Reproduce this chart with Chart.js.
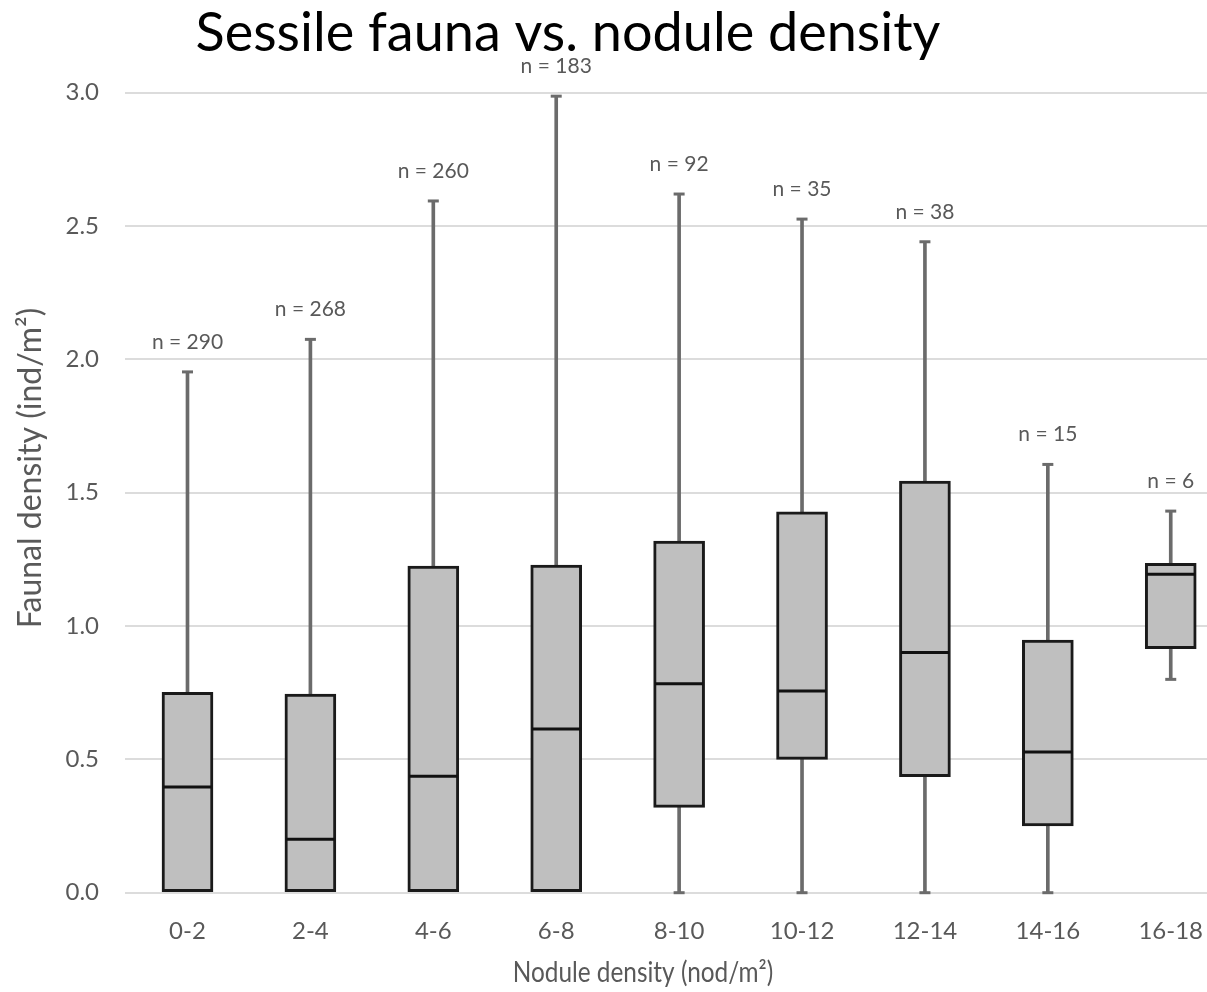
<!DOCTYPE html>
<html><head><meta charset="utf-8">
<script src="https://cdn.jsdelivr.net/npm/chart.js@4.4.0/dist/chart.umd.min.js"></script>
<style>html,body{margin:0;padding:0;background:#fff;overflow:hidden}#wrap{position:relative;width:1207px;height:992px}</style>
</head><body><div id="wrap"><canvas id="c" width="1207" height="992"></canvas></div>
<script>
const chartTitle = 'Sessile fauna vs. nodule density';
const xTitle = 'Nodule density (nod/m\u00B2)';
const yTitle = 'Faunal density (ind/m\u00B2)';
const categories = ['0-2','2-4','4-6','6-8','8-10','10-12','12-14','14-16','16-18'];
const sampleSizes = [290, 268, 260, 183, 92, 35, 38, 15, 6];
const whiskerMin = [0, 0, 0, 0, 0, 0, 0, 0, 0.80];
const quartile1 = [0, 0, 0, 0, 0.32, 0.50, 0.435, 0.25, 0.915];
const medians = [0.396, 0.20, 0.437, 0.614, 0.784, 0.756, 0.901, 0.528, 1.194];
const quartile3 = [0.751, 0.745, 1.225, 1.229, 1.319, 1.428, 1.544, 0.947, 1.235];
const whiskerMax = [1.953, 2.075, 2.594, 2.987, 2.62, 2.526, 2.441, 1.606, 1.431];
const yTicks = [0, 0.5, 1.0, 1.5, 2.0, 2.5, 3.0];

const FONT = 'Lato, "Open Sans", sans-serif';
const GREY_TEXT = '#595959';
const idx = categories.map((_, i) => i);

const boxData = idx.map(i => ({x: i, y: [quartile1[i], quartile3[i]]}));
const upperWhisker = idx.map(i => ({x: i, y: [quartile3[i], whiskerMax[i]]}));
const lowerIdx = idx.filter(i => whiskerMin[i] < quartile1[i]);
const lowerWhisker = lowerIdx.map(i => ({x: i, y: [whiskerMin[i], quartile1[i]]}));
const medianPts = idx.map(i => ({x: i, y: medians[i]}));
const capPts = idx.map(i => ({x: i, y: whiskerMax[i]})).concat(lowerIdx.map(i => ({x: i, y: whiskerMin[i]})));

const textPlugin = {
  id: 'texts',
  afterDraw(chart) {
    const ctx = chart.ctx, xs = chart.scales.x, ys = chart.scales.y;
    ctx.save();
    ctx.textAlign = 'center';
    ctx.fillStyle = '#000';
    ctx.font = '54px ' + FONT;
    ctx.textBaseline = 'alphabetic';
    ctx.fillText(chartTitle, 568, 51);
    ctx.fillStyle = GREY_TEXT;
    ctx.font = '21px ' + FONT;
    ctx.textBaseline = 'middle';
    idx.forEach(i => {
      ctx.fillText('n = ' + sampleSizes[i], xs.getPixelForValue(i), ys.getPixelForValue(whiskerMax[i]) - 30);
    });
    ctx.save();
    ctx.translate(643, 982);
    ctx.scale(0.87, 1);
    ctx.font = '28px ' + FONT;
    ctx.textBaseline = 'alphabetic';
    ctx.fillText(xTitle, 0, 0);
    ctx.restore();
    ctx.translate(31, 468);
    ctx.rotate(-Math.PI / 2);
    ctx.textBaseline = 'middle';
    ctx.font = '32px ' + FONT;
    ctx.fillText(yTitle, 0, 0);
    ctx.restore();
  }
};

new Chart(document.getElementById('c'), {
  type: 'bar',
  data: {
    datasets: [
      {type: 'scatter', label: 'Median', data: medianPts, pointStyle: 'line', pointRadius: 24, pointHoverRadius: 24,
       pointBorderWidth: 3, pointBorderColor: '#111', borderColor: '#111', order: 0, clip: false},
      {type: 'scatter', label: 'Caps', data: capPts, pointStyle: 'line', pointRadius: 5.5, pointHoverRadius: 5.5,
       pointBorderWidth: 3, pointBorderColor: '#6b6b6b', borderColor: '#6b6b6b', order: 1, clip: false},
      {type: 'bar', label: 'Box', data: boxData, backgroundColor: '#bfbfbf', borderColor: '#1a1a1a', borderWidth: 3,
       borderSkipped: false, barThickness: 51, grouped: false, order: 2, clip: false},
      {type: 'bar', label: 'Upper whisker', data: upperWhisker, backgroundColor: '#6b6b6b', borderWidth: 0,
       barThickness: 3, grouped: false, order: 3},
      {type: 'bar', label: 'Lower whisker', data: lowerWhisker, backgroundColor: '#6b6b6b', borderWidth: 0,
       barThickness: 3, grouped: false, order: 3}
    ]
  },
  options: {
    responsive: false,
    animation: false,
    events: [],
    layout: {autoPadding: false, padding: {top: 92.7, left: 0, right: 0, bottom: 0}},
    plugins: {legend: {display: false}, tooltip: {enabled: false}, title: {display: false}},
    scales: {
      x: {
        type: 'linear', min: -0.5085, max: 8.295, offset: false, bounds: 'data',
        grid: {display: false, drawTicks: false, offset: false},
        border: {display: false},
        afterBuildTicks: s => { s.ticks = idx.map(v => ({value: v})); },
        afterFit: s => { s.height = 99.3; s.paddingLeft = 0; s.paddingRight = 0; },
        ticks: {
          autoSkip: false, maxRotation: 0, padding: 24, color: GREY_TEXT,
          font: {family: FONT, size: 24},
          callback: v => categories[v] !== undefined ? categories[v] : ''
        }
      },
      y: {
        min: 0, max: 3,
        grid: {color: '#dcdcdc', lineWidth: 2, drawTicks: false},
        border: {display: false},
        afterBuildTicks: s => { s.ticks = yTicks.map(v => ({value: v})); },
        afterFit: s => { s.width = 125; },
        ticks: {
          padding: 26, color: GREY_TEXT, font: {family: FONT, size: 24},
          callback: v => Number(v).toFixed(1)
        }
      }
    }
  },
  plugins: [textPlugin]
});
</script>
</body></html>
